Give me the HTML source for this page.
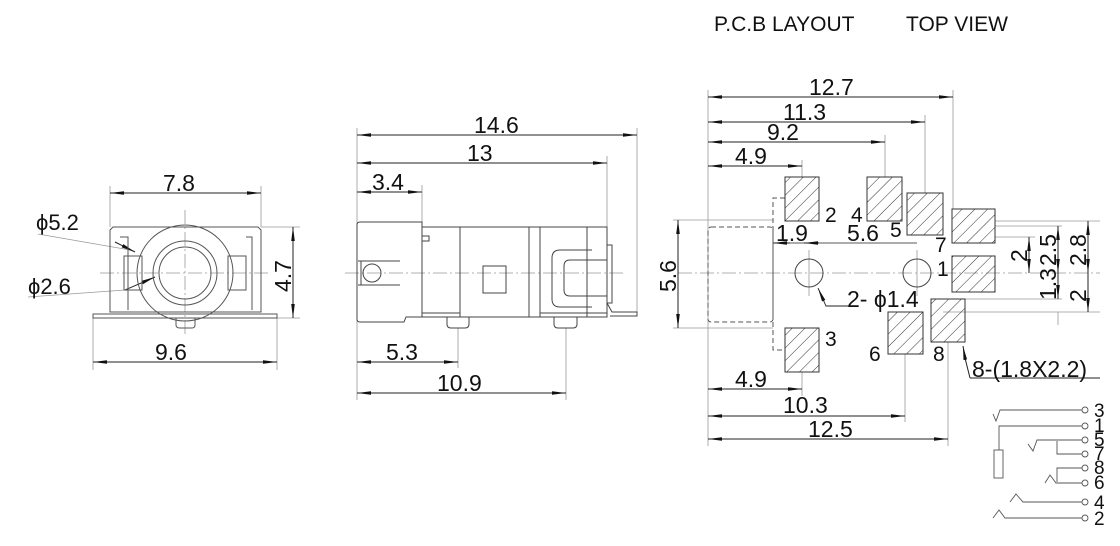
<!DOCTYPE html>
<html><head><meta charset="utf-8"><style>
html,body{margin:0;padding:0;background:#fff;}
svg{display:block;font-family:"Liberation Sans",sans-serif;}
</style></head><body>
<svg width="1120" height="546" viewBox="0 0 1120 546" xmlns="http://www.w3.org/2000/svg">
<defs>
<pattern id="h" patternUnits="userSpaceOnUse" width="9" height="9" patternTransform="rotate(45)">
<line x1="0" y1="0" x2="0" y2="9" stroke="#333" stroke-width="1"/>
</pattern>
<marker id="a" markerWidth="14" markerHeight="6" refX="14" refY="3" orient="auto-start-reverse" markerUnits="userSpaceOnUse">
<path d="M0,1.2 L14,3 L0,4.8 z" fill="#111"/>
</marker>
</defs>
<g fill="none" stroke="#222" stroke-width="1">

<!-- ===== LEFT VIEW ===== -->
<g stroke="#999" stroke-width="0.8">
<line x1="110" y1="186" x2="110" y2="227"/><line x1="261" y1="186" x2="261" y2="227"/>
<line x1="93" y1="318" x2="93" y2="370"/><line x1="277" y1="318" x2="277" y2="370"/>
<line x1="261" y1="227" x2="300" y2="227"/><line x1="277" y1="318" x2="300" y2="318"/>
<line x1="100" y1="273" x2="270" y2="273" stroke-dasharray="14,3,2,3"/>
<line x1="185" y1="210" x2="185" y2="335" stroke-dasharray="14,3,2,3"/>
<line x1="38" y1="234" x2="130" y2="250"/>
<line x1="28" y1="297" x2="125" y2="290"/>
</g>
<line x1="110" y1="193" x2="261" y2="193" marker-start="url(#a)" marker-end="url(#a)"/>
<line x1="93" y1="362" x2="277" y2="362" marker-start="url(#a)" marker-end="url(#a)"/>
<line x1="293" y1="227" x2="293" y2="318" marker-start="url(#a)" marker-end="url(#a)"/>
<line x1="115" y1="242" x2="135" y2="252" marker-end="url(#a)"/>
<line x1="125" y1="290" x2="155" y2="277" marker-end="url(#a)"/>
<path d="M113,227 H258 L261,230 V312 H110 V230 Z" stroke="#555"/>
<path d="M93,314 H277 V318 H93 Z" stroke="#555"/>
<path d="M120,237 H128 V310 M246,237 H252 V310" stroke="#555"/>
<rect x="124" y="256" width="18" height="34" stroke="#555"/>
<rect x="228" y="256" width="18" height="34" stroke="#555"/>
<circle cx="185" cy="273" r="48" stroke="#555"/>
<circle cx="185" cy="273" r="32" stroke="#555"/>
<circle cx="185" cy="273" r="26" stroke="#555"/>
<path d="M176,318 V325 Q176,328 180,328 H192 Q195,328 195,325 V318" stroke="#555"/>

<!-- ===== MIDDLE VIEW ===== -->
<g stroke="#999" stroke-width="0.8">
<line x1="357" y1="128" x2="357" y2="400"/>
<line x1="637" y1="128" x2="637" y2="315"/>
<line x1="607" y1="156" x2="607" y2="227"/>
<line x1="422" y1="185" x2="422" y2="222"/>
<line x1="458" y1="328" x2="458" y2="368"/>
<line x1="566" y1="328" x2="566" y2="400"/>
<line x1="345" y1="273" x2="625" y2="273" stroke-dasharray="14,3,2,3"/>
</g>
<line x1="357" y1="135" x2="637" y2="135" marker-start="url(#a)" marker-end="url(#a)"/>
<line x1="357" y1="163" x2="607" y2="163" marker-start="url(#a)" marker-end="url(#a)"/>
<line x1="357" y1="192" x2="422" y2="192" marker-start="url(#a)" marker-end="url(#a)"/>
<line x1="357" y1="362" x2="458" y2="362" marker-start="url(#a)" marker-end="url(#a)"/>
<line x1="357" y1="393" x2="566" y2="393" marker-start="url(#a)" marker-end="url(#a)"/>
<g stroke="#444">
<path d="M360,222 H422 V317 H406 L404,322 H360 Q357,322 357,319 V225 Q357,222 360,222 Z"/>
<path d="M422,227 H607 V317 H422"/>
<line x1="460" y1="227" x2="460" y2="317"/>
<line x1="529" y1="227" x2="529" y2="317"/>
<line x1="540" y1="227" x2="540" y2="317"/>
<line x1="587" y1="227" x2="587" y2="317"/>
<line x1="422" y1="313" x2="460" y2="313"/>
<line x1="540" y1="313" x2="607" y2="313"/>
<path d="M358,261 H400 M358,285 H400 M361,261 V285"/>
<circle cx="372" cy="273" r="9"/>
<rect x="422" y="236" width="7" height="5"/>
<rect x="483" y="266" width="23" height="27"/>
<path d="M592,250 H560 Q552,250 552,258 V299 Q552,307 560,307 H592"/>
<path d="M607,260 H570 Q564,260 564,266 V290 Q564,296 570,296 H607"/>
<path d="M607,245 H612 V303 H607"/>
<path d="M607,303 L612,312 H637 V316 H610"/>
<path d="M447,317 V324 Q447,328 451,328 H465 Q469,328 469,324 V317"/>
<path d="M554,317 V324 Q554,328 558,328 H573 Q577,328 577,324 V317"/>
</g>

<!-- ===== PCB LAYOUT ===== -->
<g stroke="#999" stroke-width="0.8">
<line x1="708" y1="90" x2="708" y2="446"/>
<line x1="953" y1="90" x2="953" y2="209"/>
<line x1="925" y1="115" x2="925" y2="193"/>
<line x1="885" y1="135" x2="885" y2="177"/>
<line x1="802" y1="160" x2="802" y2="177"/>
<line x1="802" y1="372" x2="802" y2="396"/>
<line x1="905" y1="354" x2="905" y2="422"/>
<line x1="948" y1="342" x2="948" y2="446"/>
<line x1="673" y1="220" x2="773" y2="220"/>
<line x1="673" y1="328" x2="773" y2="328"/>
<line x1="678" y1="273" x2="1100" y2="273" stroke-dasharray="14,3,2,3"/>
<line x1="809" y1="250" x2="809" y2="296"/>
<line x1="917" y1="250" x2="917" y2="296"/>
<line x1="995" y1="221" x2="1100" y2="221"/>
<line x1="995" y1="226" x2="1062" y2="226"/>
<line x1="995" y1="237" x2="1035" y2="237"/>
<line x1="965" y1="299" x2="1062" y2="299"/>
<line x1="943" y1="312" x2="1100" y2="312"/>
<line x1="1058" y1="312" x2="1058" y2="325"/>
</g>
<line x1="708" y1="97" x2="953" y2="97" marker-start="url(#a)" marker-end="url(#a)"/>
<line x1="708" y1="122" x2="925" y2="122" marker-start="url(#a)" marker-end="url(#a)"/>
<line x1="708" y1="142" x2="885" y2="142" marker-start="url(#a)" marker-end="url(#a)"/>
<line x1="708" y1="166" x2="802" y2="166" marker-start="url(#a)" marker-end="url(#a)"/>
<line x1="708" y1="389" x2="802" y2="389" marker-start="url(#a)" marker-end="url(#a)"/>
<line x1="708" y1="416" x2="905" y2="416" marker-start="url(#a)" marker-end="url(#a)"/>
<line x1="708" y1="439" x2="948" y2="439" marker-start="url(#a)" marker-end="url(#a)"/>
<line x1="678" y1="220" x2="678" y2="328" marker-start="url(#a)" marker-end="url(#a)"/>
<line x1="773" y1="243" x2="917" y2="243" stroke-width="0.8"/>
<line x1="773" y1="243" x2="790" y2="243" marker-start="url(#a)"/>
<line x1="805" y1="243" x2="820" y2="243" marker-end="url(#a)" transform="rotate(180 812 243)"/>
<line x1="1029" y1="237" x2="1029" y2="273" marker-start="url(#a)" marker-end="url(#a)"/>
<line x1="1058" y1="226" x2="1058" y2="273" marker-start="url(#a)" marker-end="url(#a)"/>
<line x1="1058" y1="273" x2="1058" y2="299" marker-end="url(#a)"/>
<line x1="1088" y1="221" x2="1088" y2="273" marker-start="url(#a)" marker-end="url(#a)"/>
<line x1="1088" y1="273" x2="1088" y2="312" marker-end="url(#a)"/>
<rect x="708" y="227" width="65" height="95" rx="3" stroke-dasharray="5,3" stroke="#555"/>
<path d="M785,198 H773 V350 H785" stroke-dasharray="5,3" stroke="#555"/>
<circle cx="809" cy="273" r="14" stroke="#444"/>
<circle cx="917" cy="273" r="14" stroke="#444"/>
<path d="M848,306 H826 L818,288" stroke-width="0.9" marker-end="url(#a)"/>
<path d="M970,378 L965,358 L963,346" marker-end="url(#a)"/>
<line x1="970" y1="378" x2="1100" y2="378" stroke-width="0.9"/>
<g fill="url(#h)" stroke="#333">
<rect x="785" y="177" width="34" height="44"/>
<rect x="867" y="177" width="35" height="44"/>
<rect x="907" y="193" width="36" height="42"/>
<rect x="952" y="209" width="43" height="34"/>
<rect x="952" y="256" width="43" height="36"/>
<rect x="931" y="299" width="34" height="43"/>
<rect x="888" y="312" width="35" height="42"/>
<rect x="785" y="328" width="34" height="44"/>
</g>

<!-- schematic -->
<g stroke="#555" stroke-width="0.9">
<circle cx="1085" cy="410" r="3"/><circle cx="1085" cy="426" r="3"/>
<circle cx="1085" cy="440" r="3"/><circle cx="1085" cy="454" r="3"/>
<circle cx="1085" cy="468" r="3"/><circle cx="1085" cy="483" r="3"/>
<circle cx="1085" cy="502" r="3"/><circle cx="1085" cy="518" r="3"/>
<path d="M1082,410 H1000 L996,421 L993,414"/>
<path d="M1082,426 H999 V450"/>
<rect x="994" y="450" width="9" height="28"/>
<path d="M1082,440 H1037 L1033,451 L1028,444"/>
<path d="M1082,454 H1057 V441"/>
<path d="M1082,468 H1057 V482"/>
<path d="M1082,483 H1056 L1050,475 L1045,483"/>
<path d="M1082,502 H1023 L1016,494 L1010,502"/>
<path d="M1082,518 H1005 L999,510 L993,518"/>
</g>
</g>

<g fill="#111" font-size="23">
<text x="714" y="31" font-size="21">P.C.B LAYOUT</text>
<text x="906" y="31" font-size="21">TOP VIEW</text>
<text x="163" y="191">7.8</text>
<text x="155" y="360">9.6</text>
<text x="36" y="230" font-size="22">ϕ5.2</text>
<text x="28" y="294" font-size="22">ϕ2.6</text>
<text x="0" y="0" transform="translate(291,292) rotate(-90)">4.7</text>
<text x="474" y="133">14.6</text>
<text x="467" y="161">13</text>
<text x="372" y="190">3.4</text>
<text x="386" y="360">5.3</text>
<text x="437" y="391">10.9</text>
<text x="809" y="95">12.7</text>
<text x="783" y="120">11.3</text>
<text x="767" y="140">9.2</text>
<text x="735" y="164">4.9</text>
<text x="735" y="387">4.9</text>
<text x="783" y="413">10.3</text>
<text x="808" y="437">12.5</text>
<text x="0" y="0" transform="translate(676,292) rotate(-90)">5.6</text>
<text x="776" y="241">1.9</text>
<text x="847" y="241">5.6</text>
<text x="847" y="307">2- ϕ1.4</text>
<text x="972" y="377">8-(1.8X2.2)</text>
<text x="825" y="222" font-size="21">2</text>
<text x="851" y="222" font-size="21">4</text>
<text x="890" y="237" font-size="21">5</text>
<text x="935" y="252" font-size="21">7</text>
<text x="937" y="276" font-size="21">1</text>
<text x="825" y="346" font-size="21">3</text>
<text x="869" y="361" font-size="21">6</text>
<text x="933" y="361" font-size="21">8</text>
<text x="0" y="0" transform="translate(1027,262) rotate(-90)">2</text>
<text x="0" y="0" transform="translate(1056,266) rotate(-90)">2.5</text>
<text x="0" y="0" transform="translate(1056,300) rotate(-90)">1.3</text>
<text x="0" y="0" transform="translate(1086,266) rotate(-90)">2.8</text>
<text x="0" y="0" transform="translate(1086,302) rotate(-90)">2</text>
<g font-size="19">
<text x="1094" y="417">3</text><text x="1094" y="432">1</text>
<text x="1094" y="446">5</text><text x="1094" y="460">7</text>
<text x="1094" y="474">8</text><text x="1094" y="489">6</text>
<text x="1094" y="509">4</text><text x="1094" y="525">2</text>
</g>
</g>
</svg>
</body></html>
